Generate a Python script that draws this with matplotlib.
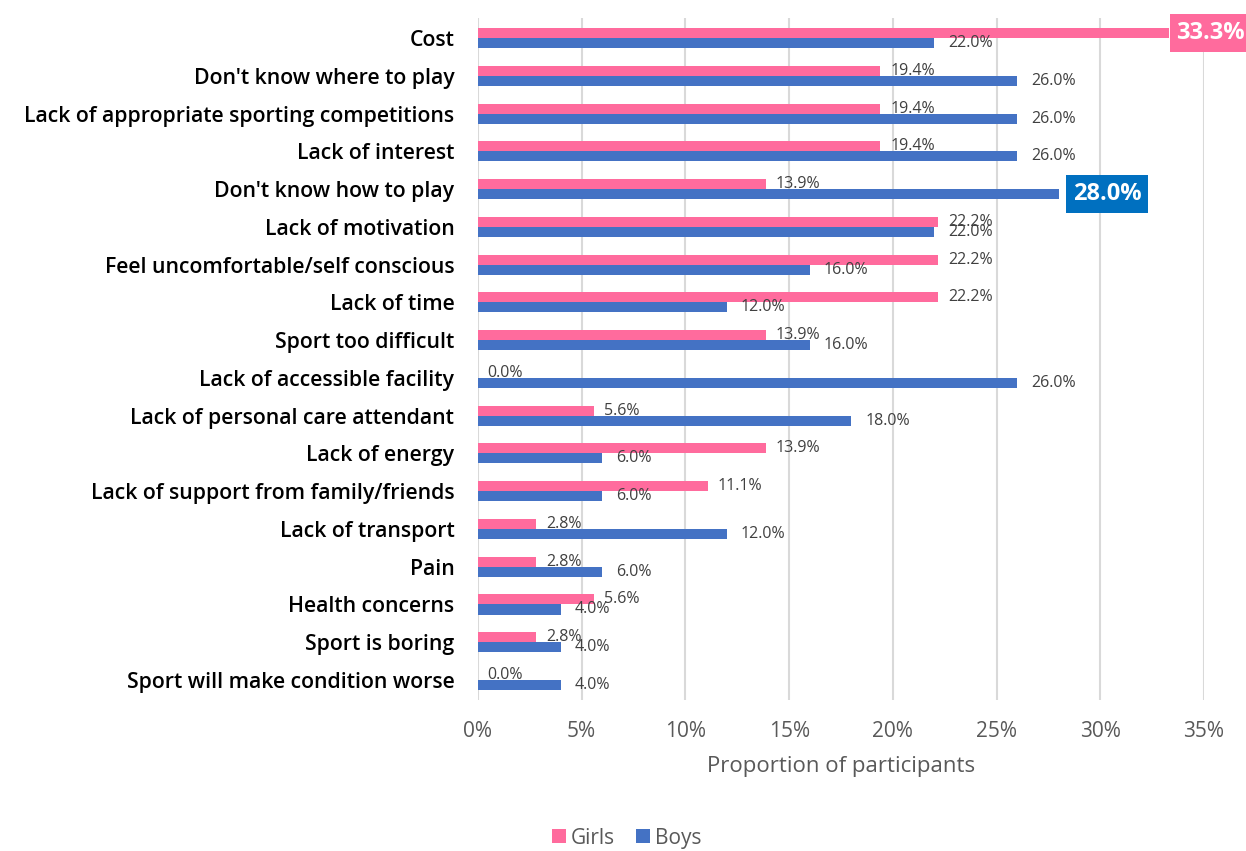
import matplotlib.pyplot as plt
import numpy as np

categories = [
    "Cost",
    "Don't know where to play",
    "Lack of appropriate sporting competitions",
    "Lack of interest",
    "Don't know how to play",
    "Lack of motivation",
    "Feel uncomfortable/self conscious",
    "Lack of time",
    "Sport too difficult",
    "Lack of accessible facility",
    "Lack of personal care attendant",
    "Lack of energy",
    "Lack of support from family/friends",
    "Lack of transport",
    "Pain",
    "Health concerns",
    "Sport is boring",
    "Sport will make condition worse",
]
girls = [33.3, 19.4, 19.4, 19.4, 13.9, 22.2, 22.2, 22.2, 13.9, 0.0,
         5.6, 13.9, 11.1, 2.8, 2.8, 5.6, 2.8, 0.0]
boys = [22.0, 26.0, 26.0, 26.0, 28.0, 22.0, 16.0, 12.0, 16.0, 26.0,
        18.0, 6.0, 6.0, 12.0, 6.0, 4.0, 4.0, 4.0]

PINK = '#FF6B9D'
BLUE = '#4472C4'
GREY = '#595959'
FONT = ['Open Sans', 'DejaVu Sans']

plt.rcParams['font.family'] = FONT

fig = plt.figure(figsize=(12.46, 8.51), dpi=100)
ax = fig.add_axes([0.3836, 0.1774, 0.5827, 0.8014])

y = np.arange(len(categories))
h = 0.265
ax.barh(y - h / 2, girls, height=h, color=PINK, label='Girls', zorder=3)
ax.barh(y + h / 2, boys, height=h, color=BLUE, label='Boys', zorder=3)

ax.set_xlim(0, 35)
ax.set_ylim(len(categories) - 0.47, -0.53)
ax.set_xticks(np.arange(0, 36, 5))
ax.set_xticklabels([f'{v}%' for v in range(0, 36, 5)], color=GREY, fontsize=15)
ax.set_yticks(y)
ax.set_yticklabels(categories, fontsize=15.3, fontweight='semibold', color='black')
ax.tick_params(axis='both', length=0)
ax.tick_params(axis='y', pad=17)
ax.tick_params(axis='x', pad=15)
ax.grid(axis='x', color='#D9D9D9', linewidth=1.5, zorder=0)
for s in ax.spines.values():
    s.set_visible(False)
ax.set_xlabel('Proportion of participants', color=GREY, fontsize=16, labelpad=10)

# value labels, the largest value of each group gets a filled box
gmax = int(np.argmax(girls))
bmax = int(np.argmax(boys))
for i, v in enumerate(girls):
    if i == gmax:
        ax.annotate(f'{v:.1f}%', (v, i - h / 2), xytext=(5.5, 0), textcoords='offset points',
                    ha='left', va='center', color='white', fontsize=17, fontweight='bold',
                    bbox=dict(boxstyle='square,pad=0.28', fc=PINK, ec='none'), zorder=5,
                    annotation_clip=False)
    else:
        ax.annotate(f'{v:.1f}%', (v, i - h / 2), xytext=(7, 0), textcoords='offset points',
                    ha='left', va='center', color='#404040', fontsize=11.5, zorder=4)
for i, v in enumerate(boys):
    if i == bmax:
        ax.annotate(f'{v:.1f}%', (v, i + h / 2), xytext=(10, 0), textcoords='offset points',
                    ha='left', va='center', color='white', fontsize=17, fontweight='bold',
                    bbox=dict(boxstyle='square,pad=0.28', fc='#0070C0', ec='none'), zorder=5)
    else:
        ax.annotate(f'{v:.1f}%', (v, i + h / 2), xytext=(10, 0), textcoords='offset points',
                    ha='left', va='center', color='#404040', fontsize=11.5, zorder=4)

leg = fig.legend(loc='center', bbox_to_anchor=(0.503, 0.015), ncol=2, frameon=False,
                 fontsize=15, handlelength=0.65, handleheight=0.65, handletextpad=0.25,
                 columnspacing=1.0)
for t in leg.get_texts():
    t.set_color(GREY)

fig.savefig('out.png', dpi=100)
